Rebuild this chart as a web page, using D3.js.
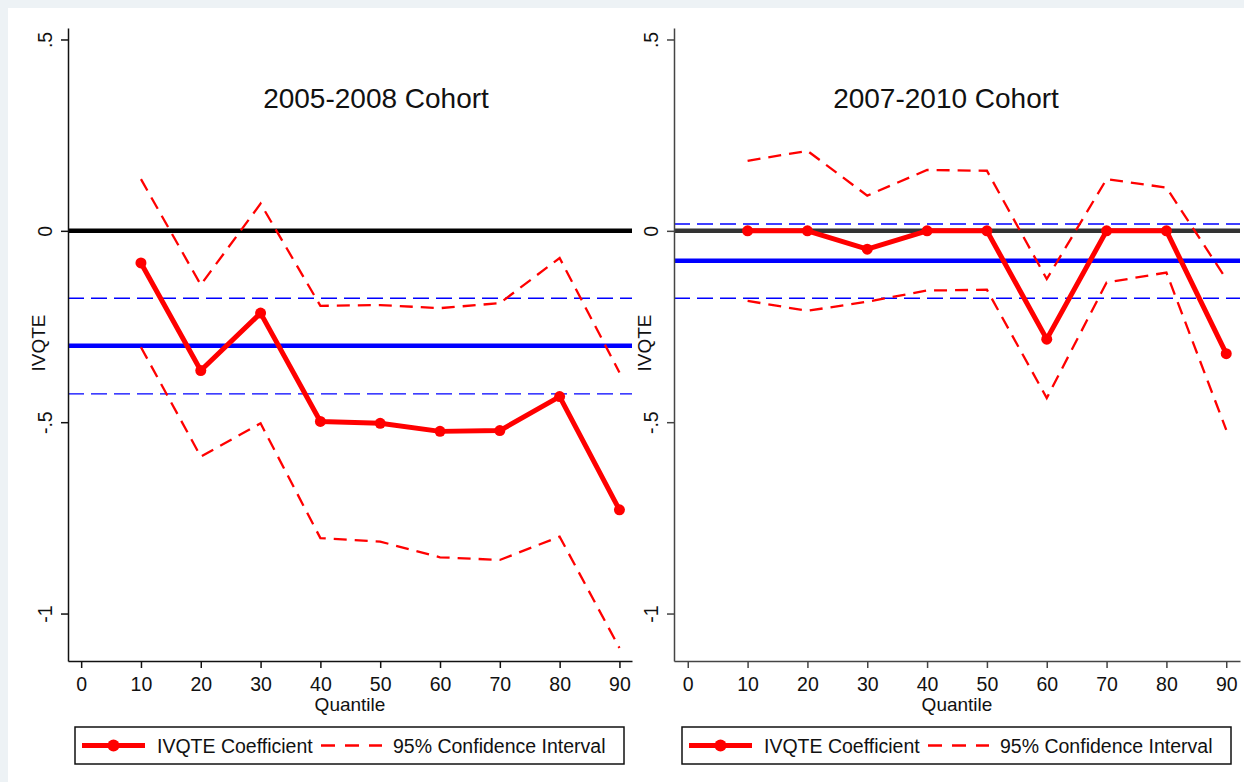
<!DOCTYPE html>
<html>
<head>
<meta charset="utf-8">
<script src="https://cdn.jsdelivr.net/npm/d3@7"></script>
<style>
  body { margin: 0; background: #edf2f5; }
  text { font-family: "Liberation Sans", Arial, sans-serif; fill: #111; }
</style>
</head>
<body>
<div id="wrap"></div>
<script>
// data
const quantiles = [10, 20, 30, 40, 50, 60, 70, 80, 90];

const coef0508  = [-0.084, -0.365, -0.215, -0.498, -0.503, -0.524, -0.522, -0.433, -0.729];
const upper0508 = [0.135, -0.141, 0.071, -0.196, -0.194, -0.202, -0.189, -0.071, -0.370];
const lower0508 = [-0.304, -0.590, -0.503, -0.803, -0.812, -0.853, -0.860, -0.799, -1.090];
const ate0508 = [-0.300, -0.176, -0.426]; // estimate, upper, lower

const coef0710  = [0, 0, -0.048, 0, 0, -0.283, 0, 0, -0.321];
const upper0710 = [0.183, 0.209, 0.092, 0.159, 0.157, -0.126, 0.135, 0.113, -0.126];
const lower0710 = [-0.183, -0.209, -0.185, -0.156, -0.154, -0.437, -0.135, -0.109, -0.520];
const ate0710 = [-0.078, 0.018, -0.176];

const titles = ["2005-2008 Cohort", "2007-2010 Cohort"];
const yTicks = [0.5, 0, -0.5, -1];
const yTickLabels = [".5", "0", "-.5", "-1"];
const xTicks = [0, 10, 20, 30, 40, 50, 60, 70, 80, 90];
const legendLabels = ["IVQTE Coefficient", "95% Confidence Interval"];

const WIDTH = 1244;
const HEIGHT = 782;
const RED = '#ff0000';
const BLUE = '#0000ff';

const svg = d3.select('#wrap')
  .append('svg')
  .attr('width', WIDTH)
  .attr('height', HEIGHT);

svg.append('rect')
  .attr('x', 8).attr('y', 8)
  .attr('width', WIDTH - 8).attr('height', HEIGHT - 8)
  .attr('fill', '#ffffff');

// y scale shared by both panels
const yScale = d3.scaleLinear().domain([-1.124, 0.53]).range([661, 28]);

const panels = [
  { title: titles[0], coef: coef0508, upper: upper0508, lower: lower0508, ate: ate0508,
    x0: 68, x1: 632, xDomain: [-2.2, 92.1], titleX: 376, zero: '#000', axisColor: '#111', legendX: 75 },
  { title: titles[1], coef: coef0710, upper: upper0710, lower: lower0710, ate: ate0710,
    x0: 674, x1: 1240, xDomain: [-2.3, 92.3], titleX: 946, zero: '#333', axisColor: '#444', legendX: 682 }
];

panels.forEach(p => drawPanel(p));

function drawPanel(p) {
  const xScale = d3.scaleLinear().domain(p.xDomain).range([p.x0, p.x1]);
  const g = svg.append('g');
  const line = d3.line().x(d => xScale(d[0])).y(d => yScale(d[1]));

  // horizontal reference lines: ATE and its band, then zero
  const hline = (v, color, w, dash) => {
    g.append('line')
      .attr('x1', p.x0).attr('x2', p.x1)
      .attr('y1', yScale(v)).attr('y2', yScale(v))
      .attr('stroke', color)
      .attr('stroke-width', w)
      .attr('stroke-dasharray', dash);
  };
  hline(p.ate[1], BLUE, 1.4, '16,7');
  hline(p.ate[2], BLUE, 1.4, '16,7');
  hline(p.ate[0], BLUE, 4.5, null);
  hline(0, p.zero, 4.5, null);

  // confidence interval
  [p.upper, p.lower].forEach(s => {
    g.append('path')
      .datum(quantiles.map((q, i) => [q, s[i]]))
      .attr('d', line)
      .attr('fill', 'none')
      .attr('stroke', RED)
      .attr('stroke-width', 2.3)
      .attr('stroke-dasharray', '13,8');
  });

  // coefficients
  const pts = quantiles.map((q, i) => [q, p.coef[i]]);
  g.append('path')
    .datum(pts)
    .attr('d', line)
    .attr('fill', 'none')
    .attr('stroke', RED)
    .attr('stroke-width', 5)
    .attr('stroke-linejoin', 'round');
  g.selectAll('.dot')
    .data(pts)
    .enter()
    .append('circle')
    .attr('cx', d => xScale(d[0]))
    .attr('cy', d => yScale(d[1]))
    .attr('r', 5.5)
    .attr('fill', RED);

  // axes
  const yAxis = d3.axisLeft(yScale)
    .tickValues(yTicks)
    .tickFormat((d, i) => yTickLabels[i])
    .tickSize(7)
    .tickSizeOuter(0);
  const ya = g.append('g')
    .attr('transform', 'translate(' + p.x0 + ',0)')
    .call(yAxis);
  ya.selectAll('text')
    .attr('transform', 'rotate(-90)')
    .attr('x', 0).attr('y', -16).attr('dy', 0)
    .attr('text-anchor', 'middle')
    .style('font-size', '19.5px');

  const xAxis = d3.axisBottom(xScale)
    .tickValues(xTicks)
    .tickSize(7)
    .tickSizeOuter(0);
  const xa = g.append('g')
    .attr('transform', 'translate(0,661)')
    .call(xAxis);
  xa.selectAll('text')
    .attr('y', 16)
    .style('font-size', '19.5px');

  [ya, xa].forEach(a => {
    a.selectAll('path, line').attr('stroke', p.axisColor).attr('stroke-width', 1.5);
    a.attr('font-family', null).attr('font-size', null);
  });

  // axis titles
  g.append('text')
    .attr('transform', 'translate(' + (p.x0 - 23) + ',343) rotate(-90)')
    .attr('text-anchor', 'middle')
    .style('font-size', '19px')
    .text('IVQTE');
  g.append('text')
    .attr('x', (p.x0 + p.x1) / 2)
    .attr('y', 711)
    .attr('text-anchor', 'middle')
    .style('font-size', '19px')
    .text('Quantile');

  // panel title
  g.append('text')
    .attr('x', p.titleX)
    .attr('y', 108)
    .attr('text-anchor', 'middle')
    .style('font-size', '28px')
    .text(p.title);

  // legend
  const lg = g.append('g').attr('transform', 'translate(' + p.legendX + ',727)');
  lg.append('rect')
    .attr('width', 549).attr('height', 37)
    .attr('fill', '#fff')
    .attr('stroke', '#111')
    .attr('stroke-width', 1.5);
  lg.append('line')
    .attr('x1', 7).attr('x2', 70).attr('y1', 18.5).attr('y2', 18.5)
    .attr('stroke', RED).attr('stroke-width', 5);
  lg.append('circle')
    .attr('cx', 38.5).attr('cy', 18.5).attr('r', 6)
    .attr('fill', RED);
  lg.append('text')
    .attr('x', 82).attr('y', 25.5)
    .style('font-size', '19.5px')
    .text(legendLabels[0]);
  lg.append('line')
    .attr('x1', 246).attr('x2', 307).attr('y1', 18.5).attr('y2', 18.5)
    .attr('stroke', RED).attr('stroke-width', 2.3)
    .attr('stroke-dasharray', '14,10');
  lg.append('text')
    .attr('x', 318).attr('y', 25.5)
    .style('font-size', '19.5px')
    .text(legendLabels[1]);
}
</script>
</body>
</html>
